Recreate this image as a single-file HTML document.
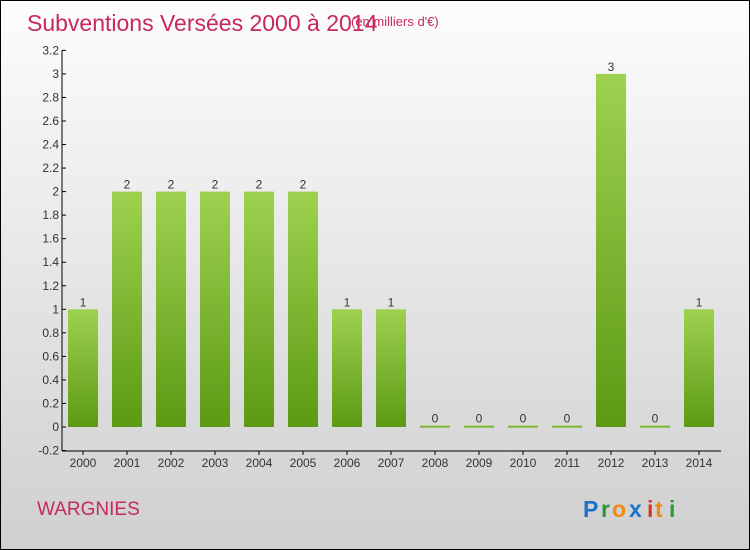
<!DOCTYPE html>
<html><head><meta charset="utf-8"><style>
body{margin:0}
#c{width:750px;height:550px;position:relative;box-sizing:border-box;border:1px solid #000;background:linear-gradient(#fdfdfd,#e6e6e6 50%,#cfcfcf);font-family:"Liberation Sans",sans-serif;overflow:hidden}
</style></head><body>
<div id="c">
<svg width="750" height="550" id="s">
<defs><linearGradient id="g" x1="0" y1="0" x2="0" y2="1"><stop offset="0" stop-color="#9ed150"/><stop offset="1" stop-color="#5c9a14"/></linearGradient></defs>
<text x="26" y="30" font-size="23" fill="#c8285a">Subventions Versées 2000 à 2014</text>
<text x="350" y="25" font-size="13" fill="#c8285a">(en milliers d'€)</text>
<text x="36" y="514" font-size="19" fill="#c8285a">WARGNIES</text>
<g font-size="23" font-weight="bold">
<text x="582" y="516" fill="#1a73c8">P</text><text x="600" y="516" fill="#2a9a3a">r</text><text x="611" y="516" fill="#f08a10">o</text><text x="628" y="516" fill="#1a73c8">x</text><text x="646" y="516" fill="#e03020">i</text><text x="654" y="516" fill="#f08a10">t</text><text x="668" y="516" fill="#2a9a3a">i</text></g>
</svg>
</div>
<script>
const years=["2000","2001","2002","2003","2004","2005","2006","2007","2008","2009","2010","2011","2012","2013","2014"];
const values=[1,2,2,2,2,2,1,1,0,0,0,0,3,0,1];
const labels=["1","2","2","2","2","2","1","1","0","0","0","0","3","0","1"];
const ticks=[-0.2,0,0.2,0.4,0.6,0.8,1,1.2,1.4,1.6,1.8,2,2.2,2.4,2.6,2.8,3,3.2];
const NS="http://www.w3.org/2000/svg",s=document.getElementById('s');
const y=v=>426-v*117.7, x=i=>82+i*44;
function mk(t,a,txt){const e=document.createElementNS(NS,t);for(const k in a)e.setAttribute(k,a[k]);if(txt!==undefined)e.textContent=txt;s.appendChild(e);return e;}
let e=mk('line',{x1:61,y1:y(3.2),x2:61,y2:450,stroke:'#000'});


e=mk('line',{x1:61,y1:450,x2:720,y2:450,stroke:'#000'});


ticks.forEach(t=>{
 mk('line',{x1:61,y1:y(t),x2:65,y2:y(t),stroke:'#000'});
 e=mk('text',{x:58,y:y(t)+4,'font-size':12,fill:'#333','text-anchor':'end'},String(t));
 
 
});
years.forEach((yr,i)=>{
 const v=values[i],top=v>0?y(v):y(0)-1.5,h=v>0?y(0)-y(v):2;
 e=mk('rect',{x:x(i)-15,y:top,width:30,height:h,fill:'url(#g)'});
 
 
 mk('line',{x1:x(i),y1:450,x2:x(i),y2:454,stroke:'#000'});
 e=mk('text',{x:x(i),y:466,'font-size':12,fill:'#333','text-anchor':'middle'},yr);
 
 
 e=mk('text',{x:x(i),y:top-3,'font-size':12,fill:'#333','text-anchor':'middle'},labels[i]);
 
 
});
</script>
</body></html>
